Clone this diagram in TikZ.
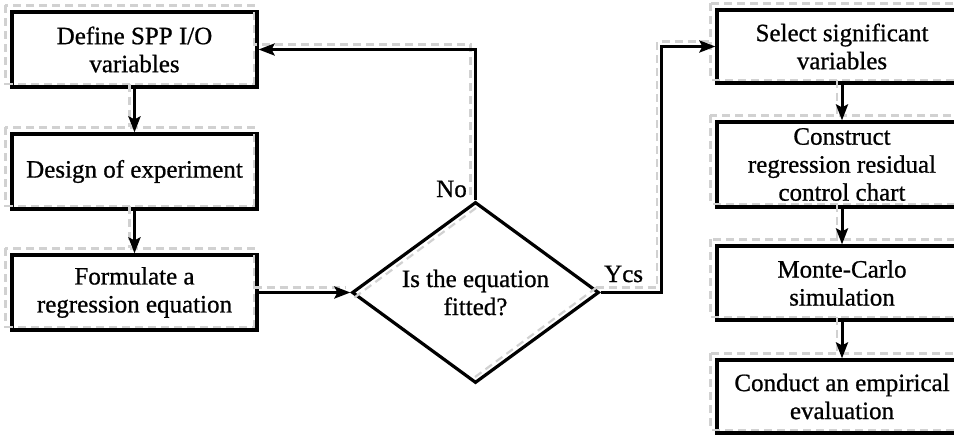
\documentclass[tikz,border=0pt]{standalone}
\usepackage{fontspec}
\setmainfont[FakeBold=0.8]{Liberation Serif}
\usetikzlibrary{shapes.geometric,arrows.meta}
\begin{document}
\begin{tikzpicture}[x=1pt,y=-1pt,
  txt/.style={font=\fontsize{25}{28}\selectfont},
  box/.style={txt,draw,line width=3.2pt,align=center,inner sep=0pt},
  lbox/.style={box,minimum width=245pt},
  rbox/.style={box,minimum width=250pt},
  conn/.style={line width=3pt},
  arr/.style={conn,-{Stealth[length=16pt,width=12pt,inset=3pt]}},
  shd/.style={draw=black!18,line width=2.2pt,dash pattern=on 8pt off 5pt}]
\useasboundingbox (0,0) rectangle (954,437);
\clip (0,0) rectangle (954,437);
% nodes
\node[lbox,minimum height=75pt] (b1) at (134.5,49.5) {Define SPP I/O\\variables};
\node[lbox,minimum height=75pt] (b2) at (134.5,171.5) {Design of experiment};
\node[lbox,minimum height=75pt] (b3) at (134.5,292.5) {Formulate a\\regression equation};
\node[txt,diamond,draw,line width=3.2pt,aspect=1.36,minimum width=247pt,minimum height=181pt,inner sep=0pt,align=center] (d) at (475.5,292.5) {Is the equation\\fitted?};
\node[rbox,minimum height=73pt] (s1) at (842,46.5) {Select significant\\variables};
\node[rbox,minimum height=85pt] (s2) at (842,164.5) {Construct\\regression residual\\control chart};
\node[rbox,minimum height=74pt] (s3) at (842,283) {Monte-Carlo\\simulation};
\node[rbox,minimum height=73pt] (s4) at (842,396.5) {Conduct an empirical\\evaluation};
% shadows
\begin{scope}[transform canvas={shift={(-5pt,5pt)}}]
  \foreach \n in {b1,b2,b3,s1,s2,s3,s4}
    \draw[shd] (\n.north west) rectangle (\n.south east);
  \draw[shd] (b1.south) -- (b2.north);
  \draw[shd] (b2.south) -- (b3.north);
  \draw[shd] (b3.east) -- (d.west);
  \draw[shd] (d.north) |- (b1.east);
  \draw[shd] (d.east) -- ++(61,0) |- (s1.west);
  \draw[shd] (s1.south) -- (s2.north);
  \draw[shd] (s2.south) -- (s3.north);
  \draw[shd] (s3.south) -- (s4.north);
\end{scope}
\draw[shd] ([shift={(4,5)}]d.west) -- ([shift={(4,5)}]d.north);
\draw[shd] ([shift={(-4,-5)}]d.east) -- ([shift={(-4,-5)}]d.south);
% connectors
\draw[arr] (b1.south) -- (b2.north);
\draw[arr] (b2.south) -- (b3.north);
\draw[arr] (b3.east) -- (d.west);
\draw[arr] (d.north) |- (b1.east);
\draw[arr] (d.east) -- ++(61,0) |- (s1.west);
\draw[arr] (s1.south) -- (s2.north);
\draw[arr] (s2.south) -- (s3.north);
\draw[arr] (s3.south) -- (s4.north);
% labels
\node[txt,anchor=base east,inner sep=0pt] (no) at (467,197) {No};
\node[txt,anchor=base west,inner sep=0pt] (yes) at (604,282) {Ycs};
\end{tikzpicture}
\end{document}
